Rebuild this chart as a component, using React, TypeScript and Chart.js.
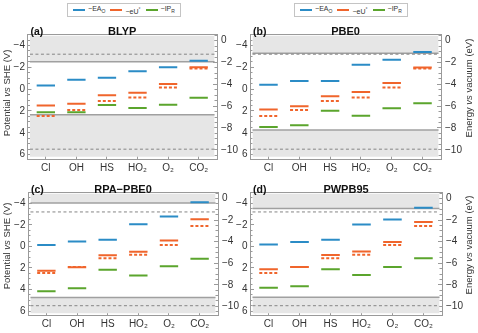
import React, { useEffect, useRef } from 'react';
import { Chart, registerables } from 'chart.js';

Chart.register(...registerables);

// ---------- data ----------
const CATEGORIES = ['Cl', 'OH', 'HS', 'HO₂', 'O₂', 'CO₂'];
const CATEGORY_INDEX = [0, 1, 2, 3, 4, 5];

const POTENTIAL_TICKS = [-4, -2, 0, 2, 4, 6];
const POTENTIAL_MINOR = [-5, -4.5, -3.5, -3, -2.5, -1.5, -1, -0.5, 0.5, 1, 1.5, 2.5, 3, 3.5, 4.5, 5, 5.5];
const ENERGY_TICKS = [0, -2, -4, -6, -8, -10];
const ENERGY_MINOR = [0.5, -0.5, -1, -1.5, -2.5, -3, -3.5, -4.5, -5, -5.5, -6.5, -7, -7.5, -8.5, -9, -9.5, -10.5];
const SHE_OFFSET = 4.44;

// experimental -eU° (dashed orange), same in every panel
const EXP_EU = [2.46, 1.92, 1.09, 0.77, -0.14, -1.9];

const BLYP_EA = [-0.34, -0.87, -1.05, -1.64, -2.0, -2.6];
const BLYP_EU = [1.5, 1.34, 0.55, 0.34, -0.48, -2.0];
const BLYP_IP = [2.12, 2.12, 1.45, 1.73, 1.42, 0.8];
const BLYP_EDGES = [-2.51, 2.35];

const PBE0_EA = [-0.4, -0.74, -0.74, -2.23, -2.69, -3.4];
const PBE0_EU = [1.86, 1.57, 0.66, 0.26, -0.57, -1.97];
const PBE0_IP = [3.46, 3.31, 1.97, 2.43, 1.74, 1.29];
const PBE0_EDGES = [-3.29, 3.74];

const RPA_EA = [-0.14, -0.46, -0.63, -2.06, -2.77, -4.11];
const RPA_EU = [2.26, 1.94, 0.83, 0.49, -0.54, -2.51];
const RPA_IP = [4.17, 3.89, 2.17, 2.69, 1.83, 1.14];
const RPA_EDGES = [-4.03, 4.74];

const PWPB_EA = [-0.17, -0.4, -0.63, -2.03, -2.49, -3.6];
const PWPB_EU = [2.11, 1.91, 0.8, 0.46, -0.4, -2.26];
const PWPB_IP = [3.83, 3.69, 2.11, 2.66, 1.91, 1.09];
const PWPB_EDGES = [-3.51, 4.71];

const DASHED_LEVELS = [-3.2, 5.5];
const SHADE_LIMITS = [-4.88, 6.2];
const Y_RANGE = [-5.05, 6.4];
const X_RANGE = [-0.6, 5.6];
const SHADE_X = [-0.52, 5.52];

// ---------- style ----------
const BLUE = '#2b8cc6';
const ORANGE = '#f0652c';
const GREEN = '#5ba52d';
const SHADE = '#e6e6e6';
const FRAME = '#9a9a9a';
const TEXT = '#333333';
const FONT = "'Liberation Sans', Arial, Helvetica, sans-serif";
const HALF = 0.3;

const fmt = (v: number) => (v < 0 ? '−' + Math.abs(v) : String(v));

type PanelDef = {
  left: number; top: number; width: number; height: number;
  yW: number; y2W: number; xH: number; padTop: number;
  tag: string; name: string;
  ea: number[]; eu: number[]; ip: number[]; edges: number[];
};

function Panel(p: PanelDef) {
  const ref = useRef<HTMLCanvasElement>(null);
  useEffect(() => {
    const seg = (vals: number[]) => {
      const out: any[] = [];
      vals.forEach((v, i) => {
        const c = CATEGORY_INDEX[i];
        out.push({ x: c - HALF, y: v }, { x: c + HALF, y: v }, { x: c + HALF, y: null });
      });
      return out;
    };
    const hline = (v: number) => [
      { x: SHADE_X[0], y: v },
      { x: SHADE_X[1], y: v },
    ];
    const common = {
      pointRadius: 0,
      pointHoverRadius: 0,
      spanGaps: false,
      tension: 0,
      fill: false,
      borderCapStyle: 'butt',
    };
    const tickFont = { family: FONT, size: 10 };
    const minorAxis = (position: string, min: number, max: number, reverse: boolean, ticks: number[]) => ({
      type: 'linear',
      position,
      min,
      max,
      reverse,
      weight: 0,
      afterBuildTicks: (s: any) => {
        s.ticks = ticks.map((v) => ({ value: v }));
      },
      afterFit: (s: any) => {
        s.width = 0;
      },
      grid: { display: true, drawOnChartArea: false, drawTicks: true, tickLength: -2.5, tickColor: FRAME, tickWidth: 1 },
      border: { display: false },
      ticks: { display: false },
    });
    const chart = new Chart(ref.current as HTMLCanvasElement, {
      type: 'line',
      data: {
        datasets: [
          { ...common, data: seg(EXP_EU), borderColor: ORANGE, borderWidth: 2, borderDash: [3, 2], order: 1 },
          { ...common, data: seg(p.ea), borderColor: BLUE, borderWidth: 2, order: 2 },
          { ...common, data: seg(p.eu), borderColor: ORANGE, borderWidth: 2, order: 3 },
          { ...common, data: seg(p.ip), borderColor: GREEN, borderWidth: 2, order: 4 },
          { ...common, data: hline(DASHED_LEVELS[0]), borderColor: '#858585', borderWidth: 1, borderDash: [3, 2.5], order: 8 },
          { ...common, data: hline(DASHED_LEVELS[1]), borderColor: '#858585', borderWidth: 1, borderDash: [3, 2.5], order: 8 },
          { ...common, data: hline(p.edges[0]), borderColor: '#a0a0a0', borderWidth: 1.5, fill: { value: SHADE_LIMITS[0] }, backgroundColor: SHADE, order: 10 },
          { ...common, data: hline(p.edges[1]), borderColor: '#a0a0a0', borderWidth: 1.5, fill: { value: SHADE_LIMITS[1] }, backgroundColor: SHADE, order: 10 },
        ] as any,
      },
      options: {
        animation: false,
        responsive: false,
        events: [],
        layout: { padding: { top: p.padTop, left: 0, right: 0, bottom: 0 } },
        plugins: { legend: { display: false }, tooltip: { enabled: false } },
        scales: {
          x: {
            type: 'linear',
            position: 'bottom',
            min: X_RANGE[0],
            max: X_RANGE[1],
            afterBuildTicks: (s: any) => {
              s.ticks = CATEGORY_INDEX.map((v) => ({ value: v }));
            },
            afterFit: (s: any) => {
              s.height = p.xH;
            },
            grid: { display: true, drawOnChartArea: false, drawTicks: true, tickLength: -4, tickColor: FRAME, tickWidth: 1 },
            border: { display: true, color: FRAME, width: 1 },
            ticks: {
              callback: (v: any) => CATEGORIES[v as number],
              autoSkip: false,
              maxRotation: 0,
              padding: 7,
              color: TEXT,
              font: tickFont,
            },
          },
          xt: {
            type: 'linear',
            position: 'top',
            min: X_RANGE[0],
            max: X_RANGE[1],
            afterFit: (s: any) => {
              s.height = 0;
            },
            grid: { display: false },
            ticks: { display: false },
            border: { display: true, color: FRAME, width: 1 },
          },
          y: {
            type: 'linear',
            position: 'left',
            reverse: true,
            min: Y_RANGE[0],
            max: Y_RANGE[1],
            weight: 1,
            afterBuildTicks: (s: any) => {
              s.ticks = POTENTIAL_TICKS.map((v) => ({ value: v }));
            },
            afterFit: (s: any) => {
              s.width = p.yW;
            },
            grid: { display: true, drawOnChartArea: false, drawTicks: true, tickLength: -4, tickColor: FRAME, tickWidth: 1 },
            border: { display: true, color: FRAME, width: 1 },
            ticks: { callback: (v: any) => fmt(v as number), padding: 6.5, color: TEXT, font: tickFont, autoSkip: false },
          },
          ym: minorAxis('left', Y_RANGE[0], Y_RANGE[1], true, POTENTIAL_MINOR),
          y2: {
            type: 'linear',
            position: 'right',
            min: -(Y_RANGE[1] + SHE_OFFSET),
            max: -(Y_RANGE[0] + SHE_OFFSET),
            weight: 1,
            afterBuildTicks: (s: any) => {
              s.ticks = ENERGY_TICKS.map((v) => ({ value: v }));
            },
            afterFit: (s: any) => {
              s.width = p.y2W;
            },
            grid: { display: true, drawOnChartArea: false, drawTicks: true, tickLength: -4, tickColor: FRAME, tickWidth: 1 },
            border: { display: true, color: FRAME, width: 1 },
            ticks: { callback: (v: any) => fmt(v as number), padding: 8, color: TEXT, font: tickFont, autoSkip: false },
          },
          y2m: minorAxis('right', -(Y_RANGE[1] + SHE_OFFSET), -(Y_RANGE[0] + SHE_OFFSET), false, ENERGY_MINOR),
        } as any,
      },
    });
    return () => chart.destroy();
  }, []);

  const areaLeft = p.left + p.yW;
  const areaRight = p.left + p.width - p.y2W;
  const areaTop = p.top + p.padTop;
  return (
    <>
      <canvas
        ref={ref}
        width={p.width}
        height={p.height}
        style={{ position: 'absolute', left: p.left, top: p.top, width: p.width, height: p.height }}
      />
      <div
        style={{
          position: 'absolute',
          left: areaLeft + 3,
          top: areaTop + 2,
          fontWeight: 'bold',
          fontSize: 10.5,
          lineHeight: '12px',
          color: '#111',
        }}
      >
        {p.tag}
      </div>
      <div
        style={{
          position: 'absolute',
          left: (areaLeft + areaRight) / 2,
          top: areaTop + 1.5,
          transform: 'translateX(-50%)',
          fontWeight: 'bold',
          fontSize: 11,
          lineHeight: '12px',
          whiteSpace: 'nowrap',
          color: '#111',
        }}
      >
        {p.name}
      </div>
    </>
  );
}

function Legend({ left }: { left: number }) {
  const item = (color: string, label: React.ReactNode) => (
    <div style={{ display: 'flex', alignItems: 'center', gap: 3 }}>
      <div style={{ width: 12, height: 1.6, background: color }} />
      <div style={{ fontSize: 7, lineHeight: '8px', color: '#333' }}>{label}</div>
    </div>
  );
  return (
    <div
      style={{
        position: 'absolute',
        left,
        top: 3,
        width: 114,
        height: 14,
        boxSizing: 'border-box',
        border: '1px solid #c4c4c4',
        background: '#fff',
        display: 'flex',
        alignItems: 'center',
        justifyContent: 'space-evenly',
      }}
    >
      {item(BLUE, <span>−EA<sub style={{ fontSize: 5 }}>O</sub></span>)}
      {item(ORANGE, <span>−eU<sup style={{ fontSize: 5 }}>°</sup></span>)}
      {item(GREEN, <span>−IP<sub style={{ fontSize: 5 }}>R</sub></span>)}
    </div>
  );
}

function VTitle({ x, y, children }: { x: number; y: number; children: React.ReactNode }) {
  return (
    <div
      style={{
        position: 'absolute',
        left: x,
        top: y,
        transform: 'translate(-50%, -50%) rotate(-90deg)',
        whiteSpace: 'nowrap',
        fontSize: 9.5,
        color: '#333',
      }}
    >
      {children}
    </div>
  );
}

export default function App() {
  return (
    <div
      style={{
        position: 'fixed',
        left: 0,
        top: 0,
        width: 478,
        height: 333,
        background: '#fff',
        fontFamily: FONT,
        overflow: 'hidden',
      }}
    >
      <Legend left={67} />
      <Legend left={294} />
      <Panel left={0} top={20} width={240} height={153} yW={27.5} y2W={23} xH={14} padTop={3.2}
        tag="(a)" name="BLYP" ea={BLYP_EA} eu={BLYP_EU} ip={BLYP_IP} edges={BLYP_EDGES} />
      <Panel left={236} top={20} width={242} height={153} yW={14} y2W={37} xH={14} padTop={3.2}
        tag="(b)" name="PBE0" ea={PBE0_EA} eu={PBE0_EU} ip={PBE0_IP} edges={PBE0_EDGES} />
      <Panel left={0} top={178} width={240} height={155} yW={28} y2W={22} xH={17.6} padTop={3.4}
        tag="(c)" name="RPA−PBE0" ea={RPA_EA} eu={RPA_EU} ip={RPA_IP} edges={RPA_EDGES} />
      <Panel left={236} top={178} width={242} height={155} yW={14} y2W={36} xH={17.6} padTop={3.4}
        tag="(d)" name="PWPB95" ea={PWPB_EA} eu={PWPB_EU} ip={PWPB_IP} edges={PWPB_EDGES} />
      <VTitle x={6} y={93}>Potential <i>vs</i> SHE (V)</VTitle>
      <VTitle x={6} y={246}>Potential <i>vs</i> SHE (V)</VTitle>
      <VTitle x={468} y={88}>Energy <i>vs</i> vacuum (eV)</VTitle>
      <VTitle x={468} y={245}>Energy <i>vs</i> vacuum (eV)</VTitle>
    </div>
  );
}
